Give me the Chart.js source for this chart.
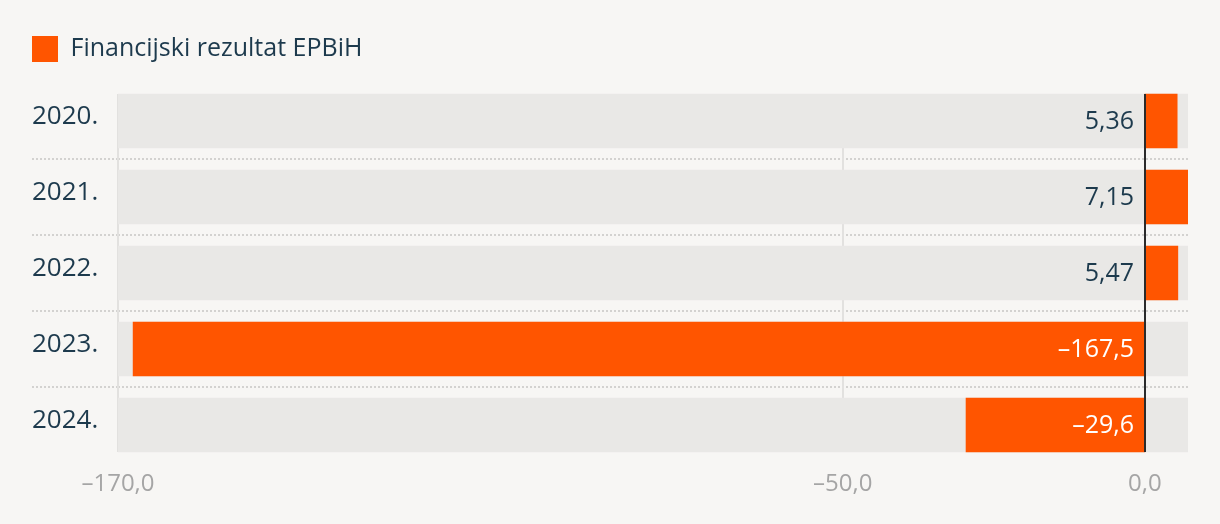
<!DOCTYPE html>
<html>
<head>
<meta charset="utf-8">
<title>Financijski rezultat EPBiH</title>
<script src="https://cdn.jsdelivr.net/npm/chart.js@4.4.1/dist/chart.umd.min.js"></script>
<style>
  html, body { margin: 0; padding: 0; background: #f7f6f4; }
  canvas { display: block; }
</style>
</head>
<body>
<canvas id="chart" width="1220" height="524"></canvas>
<script>
'use strict';

// ── Data ──────────────────────────────────────────────────────
const years      = ['2020.', '2021.', '2022.', '2023.', '2024.'];
const results    = [5.36, 7.15, 5.47, -167.5, -29.6];
const seriesName = 'Financijski rezultat EPBiH';
const xTicks     = [-170, -50, 0];
const xMin       = -170;
const xMax       = 7.15;

// ── Look ──────────────────────────────────────────────────────
const ORANGE = '#ff5500';
const TRACK  = '#e9e8e6';
const INK    = '#1d3a4d';
const MUTED  = '#a5a5a5';
const DOTS   = '#d3d2d0';
const VGRID  = '#e2e1df';
const ZERO   = '#2b2b2b';
const FONT   = "'Open Sans', 'Noto Sans', sans-serif";

Chart.defaults.font.family = FONT;

// "-167.5" -> "–167,5"
function fmt(v, digits) {
  const s = digits == null ? String(Math.abs(v)) : Math.abs(v).toFixed(digits);
  return (v < 0 ? '\u2013' : '') + s.replace('.', ',');
}

// full-width grey track behind every row
const track = years.map(() => [xMin, xMax]);

// ── Extra drawing: vertical grid, zero line, value labels ─────
function rowSpan(chart) {
  const rows = chart.getDatasetMeta(1).data;
  const first = rows[0].getProps(['y', 'height'], true);
  const last  = rows[rows.length - 1].getProps(['y', 'height'], true);
  return { top: first.y - first.height / 2, bottom: last.y + last.height / 2 };
}

const overlay = {
  id: 'overlay',
  beforeDatasetsDraw(chart) {
    const { ctx, scales: { x } } = chart;
    const { top, bottom } = rowSpan(chart);
    ctx.save();
    ctx.strokeStyle = VGRID;
    ctx.lineWidth = 2;
    xTicks.filter(v => v !== 0).forEach(v => {
      const px = Math.round(x.getPixelForValue(v));
      ctx.beginPath();
      ctx.moveTo(px, top);
      ctx.lineTo(px, bottom);
      ctx.stroke();
    });
    ctx.restore();
  },
  afterDatasetsDraw(chart) {
    const { ctx, scales: { x } } = chart;
    const { top, bottom } = rowSpan(chart);
    const zx = Math.round(x.getPixelForValue(0));

    ctx.save();
    ctx.strokeStyle = ZERO;
    ctx.lineWidth = 2;
    ctx.beginPath();
    ctx.moveTo(zx, top);
    ctx.lineTo(zx, bottom);
    ctx.stroke();

    ctx.font = `25px ${FONT}`;
    ctx.textAlign = 'right';
    ctx.textBaseline = 'middle';
    chart.getDatasetMeta(0).data.forEach((bar, i) => {
      const v = results[i];
      ctx.fillStyle = v < 0 ? '#ffffff' : INK;
      ctx.fillText(fmt(v), zx - 11, bar.y + 1);
    });
    ctx.restore();
  }
};

// ── Chart ─────────────────────────────────────────────────────
new Chart(document.getElementById('chart'), {
  type: 'bar',
  data: {
    labels: years,
    datasets: [
      { label: seriesName, data: results, backgroundColor: ORANGE, grouped: false, order: 0, barThickness: 54 },
      { label: 'track', data: track, backgroundColor: TRACK, grouped: false, order: 1, barThickness: 54 }
    ]
  },
  options: {
    indexAxis: 'y',
    responsive: false,
    animation: false,
    devicePixelRatio: 1,
    layout: { padding: { top: 36, left: 32, right: 32, bottom: 0 } },
    plugins: {
      legend: {
        position: 'top',
        align: 'start',
        labels: {
          boxWidth: 26, boxHeight: 26, padding: 0,
          color: INK, font: { size: 25 },
          filter: item => item.datasetIndex === 0
        }
      },
      // empty title used only as a spacer between legend and bars
      title: { display: true, text: '', weight: 500, padding: 0, font: { size: 11, lineHeight: 1 } },
      tooltip: { enabled: false }
    },
    scales: {
      x: {
        type: 'linear',
        min: xMin, max: xMax,
        afterBuildTicks: s => { s.ticks = xTicks.map(v => ({ value: v })); },
        afterFit: s => { s.height = 61; },
        grid: { display: false },
        border: { display: false },
        ticks: { color: MUTED, font: { size: 24 }, padding: -1, callback: v => fmt(v, 1) }
      },
      y: {
        type: 'category',
        offset: true,
        afterFit: s => { s.width = 86; },
        grid: {
          offset: true,
          color: c => (c.type === 'tick' && c.index > 0) ? DOTS : 'transparent',
          lineWidth: 2,
          drawTicks: true,
          tickLength: 86,
          tickWidth: 2,
          tickBorderDash: [2, 2]
        },
        border: { display: false, dash: [2, 2] },
        ticks: { color: INK, font: { size: 26 }, crossAlign: 'far', labelOffset: -4 }
      }
    }
  },
  plugins: [overlay]
});
</script>
</body>
</html>
